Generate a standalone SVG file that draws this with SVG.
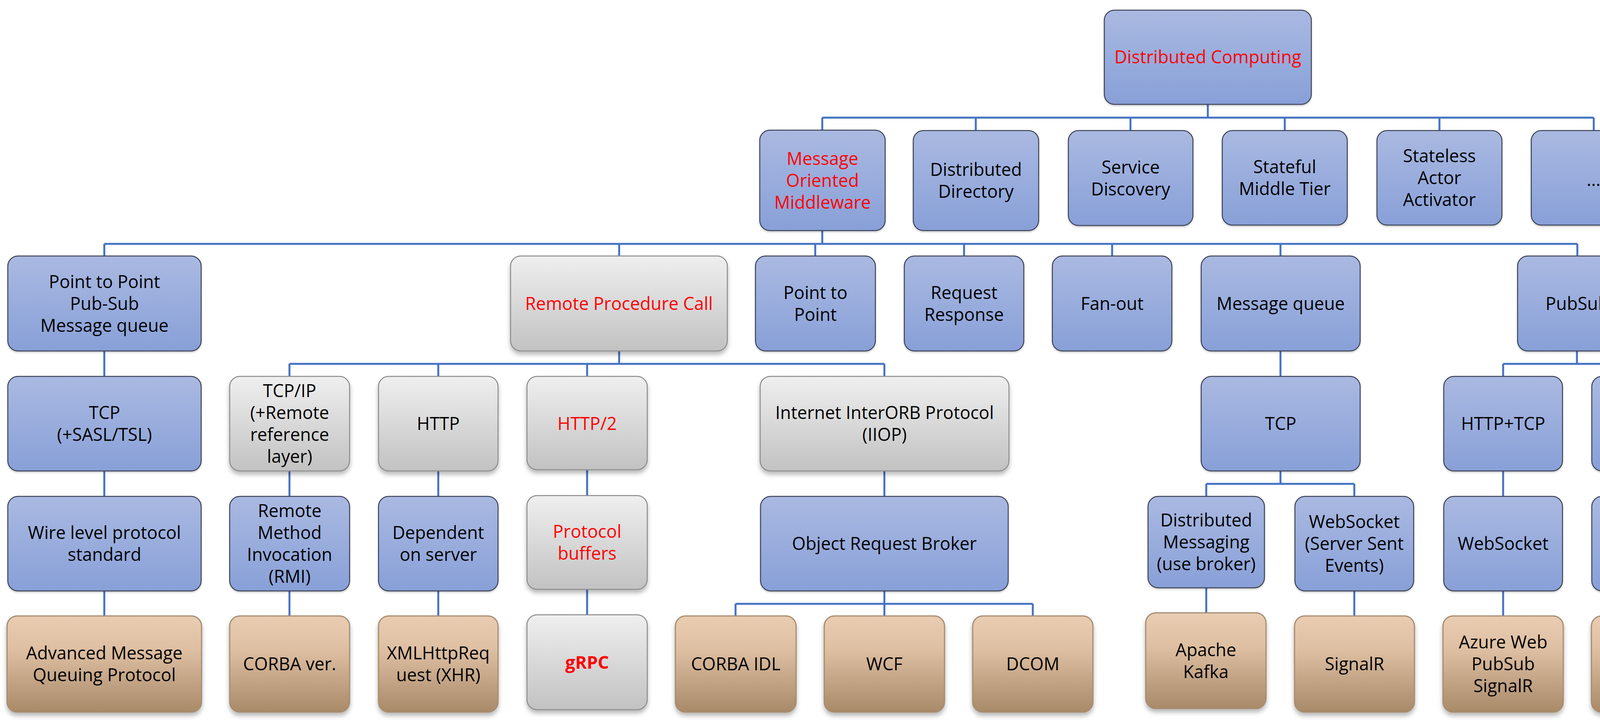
<svg xmlns="http://www.w3.org/2000/svg" width="4400" height="1855" viewBox="0 0 4400 1855">
<defs>
<linearGradient id="gb" x1="0" y1="0" x2="0" y2="1"><stop offset="0" stop-color="#AAB9E1"/><stop offset="1" stop-color="#88A0D8"/></linearGradient>
<linearGradient id="gg" x1="0" y1="0" x2="0" y2="1"><stop offset="0" stop-color="#EFEFEF"/><stop offset="1" stop-color="#C2C2C2"/></linearGradient>
<linearGradient id="gr" x1="0" y1="0" x2="0" y2="1"><stop offset="0" stop-color="#E9CDB2"/><stop offset="0.35" stop-color="#DEBFA2"/><stop offset="1" stop-color="#A88A69"/></linearGradient>
<filter id="sh" x="-10%" y="-10%" width="120%" height="130%"><feDropShadow dx="0" dy="8" stdDeviation="6" flood-color="#000" flood-opacity="0.28"/></filter>
<filter id="shb" x="-10%" y="-10%" width="120%" height="130%"><feDropShadow dx="0" dy="3" stdDeviation="2" flood-color="#000" flood-opacity="0.2"/></filter>
<style>
.blue{fill:url(#gb);stroke:#3C4356;stroke-width:2.5;filter:url(#shb)}
.gray{fill:url(#gg);stroke:#8A8A8A;stroke-width:2.5;filter:url(#sh)}
.brown{fill:url(#gr);stroke:#A68C70;stroke-width:3;filter:url(#sh)}
text{font-family:"Open Sans","Noto Sans","Liberation Sans",sans-serif;font-size:45px;text-anchor:middle;fill:#000}
.red{fill:#FF0000}
.bold{font-weight:bold}
.c{fill:none;stroke:#4472C4;stroke-width:5}
</style>
</defs>
<g id="connectors" class="c">
<path class="c" d="M3092 267V301M2105 301H4080M2105 301V334M2498 301V334M2894 301V334M3289 301V334M3685 301V334M4080 301V334"/>
<path class="c" d="M2105 590V624M267 624H4038M267 624V655M1585 624V655M2087 624V655M2468 624V655M2847 624V655M3278 624V655M4038 624V655"/>
<path class="c" d="M267 898V963M267 1205V1270M267 1512V1576"/>
<path class="c" d="M1585 898V931M741 931H2264M741 931V963M1122 931V963M1503 931V963M2264 931V963"/>
<path class="c" d="M741 1205V1270M741 1512V1576M1122 1205V1270M1122 1512V1576M1503 1202V1268M1503 1508V1573"/>
<path class="c" d="M2264 1205V1270M2264 1512V1545M1883 1545H2644M1883 1545V1576M2264 1545V1576M2644 1545V1576"/>
<path class="c" d="M3278 898V963M3278 1205V1238M3088 1238H3467M3088 1238V1270M3467 1238V1270M3088 1504V1568M3467 1512V1576"/>
<path class="c" d="M4037 898V931M3848 931H4227M3848 931V963M4227 931V963M3848 1205V1270M3848 1512V1576M4227 1205V1270M4227 1512V1576"/>
</g>
<g id="n-dc"><rect class="blue" x="2827" y="26" width="530" height="241" rx="26"/><text class="red" x="3092" y="162">Distributed Computing</text></g>
<g id="n-mom"><rect class="blue" x="1945" y="333" width="321" height="257" rx="26"/><text class="red" x="2105.5" y="421.5">Message</text><text class="red" x="2105.5" y="477.5">Oriented</text><text class="red" x="2105.5" y="533.5">Middleware</text></g>
<g id="n-dd"><rect class="blue" x="2338" y="334" width="321" height="256" rx="26"/><text x="2498.5" y="450">Distributed</text><text x="2498.5" y="506">Directory</text></g>
<g id="n-sd"><rect class="blue" x="2735" y="334" width="319" height="243" rx="26"/><text x="2894.5" y="443.5">Service</text><text x="2894.5" y="499.5">Discovery</text></g>
<g id="n-smt"><rect class="blue" x="3129" y="334" width="320" height="242" rx="26"/><text x="3289" y="443">Stateful</text><text x="3289" y="499">Middle Tier</text></g>
<g id="n-saa"><rect class="blue" x="3525" y="334" width="320" height="242" rx="26"/><text x="3685" y="415">Stateless</text><text x="3685" y="471">Actor</text><text x="3685" y="527">Activator</text></g>
<g id="n-more"><rect class="blue" x="3920" y="334" width="319" height="242" rx="26"/><text x="4079.5" y="476">...</text></g>
<g id="n-ppm"><rect class="blue" x="20" y="655" width="495" height="243" rx="26"/><text x="267.5" y="736.5">Point to Point</text><text x="267.5" y="792.5">Pub-Sub</text><text x="267.5" y="848.5">Message queue</text></g>
<g id="n-rpc"><rect class="gray" x="1307" y="655" width="555" height="243" rx="26"/><text class="red" x="1584.5" y="792.5">Remote Procedure Call</text></g>
<g id="n-p2p"><rect class="blue" x="1934" y="655" width="307" height="243" rx="26"/><text x="2087.5" y="764.5">Point to</text><text x="2087.5" y="820.5">Point</text></g>
<g id="n-rr"><rect class="blue" x="2315" y="655" width="306" height="243" rx="26"/><text x="2468" y="764.5">Request</text><text x="2468" y="820.5">Response</text></g>
<g id="n-fan"><rect class="blue" x="2694" y="655" width="306" height="243" rx="26"/><text x="2847" y="792.5">Fan-out</text></g>
<g id="n-mq"><rect class="blue" x="3075" y="655" width="407" height="243" rx="26"/><text x="3278.5" y="792.5">Message queue</text></g>
<g id="n-pubsub"><rect class="blue" x="3885" y="655" width="305" height="243" rx="26"/><text x="4037.5" y="792.5">PubSub</text></g>
<g id="n-tcp1"><rect class="blue" x="20" y="963" width="495" height="242" rx="26"/><text x="267.5" y="1072">TCP</text><text x="267.5" y="1128">(+SASL/TSL)</text></g>
<g id="n-tcpip"><rect class="gray" x="588" y="963" width="307" height="242" rx="26"/><text x="741.5" y="1016">TCP/IP</text><text x="741.5" y="1072">(+Remote</text><text x="741.5" y="1128">reference</text><text x="741.5" y="1184">layer)</text></g>
<g id="n-http"><rect class="gray" x="969" y="963" width="306" height="242" rx="26"/><text x="1122" y="1100">HTTP</text></g>
<g id="n-http2"><rect class="gray" x="1349" y="963" width="308" height="239" rx="26"/><text class="red" x="1503" y="1100">HTTP/2</text></g>
<g id="n-iiop"><rect class="gray" x="1946" y="963" width="637" height="242" rx="26"/><text x="2264.5" y="1072">Internet InterORB Protocol</text><text x="2264.5" y="1128">(IIOP)</text></g>
<g id="n-tcp2"><rect class="blue" x="3075" y="963" width="407" height="242" rx="26"/><text x="3278.5" y="1100">TCP</text></g>
<g id="n-httptcp"><rect class="blue" x="3696" y="963" width="304" height="242" rx="26"/><text x="3848" y="1100">HTTP+TCP</text></g>
<g id="n-tcp3"><rect class="blue" x="4075" y="963" width="305" height="242" rx="26"/><text x="4227.5" y="1100">TCP</text></g>
<g id="n-wire"><rect class="blue" x="20" y="1270" width="495" height="242" rx="26"/><text x="267.5" y="1379">Wire level protocol</text><text x="267.5" y="1435">standard</text></g>
<g id="n-rmi"><rect class="blue" x="588" y="1270" width="307" height="242" rx="26"/><text x="741.5" y="1323">Remote</text><text x="741.5" y="1379">Method</text><text x="741.5" y="1435">Invocation</text><text x="741.5" y="1491">(RMI)</text></g>
<g id="n-dep"><rect class="blue" x="969" y="1270" width="306" height="242" rx="26"/><text x="1122" y="1379">Dependent</text><text x="1122" y="1435">on server</text></g>
<g id="n-pb"><rect class="gray" x="1349" y="1268" width="308" height="240" rx="26"/><text class="red" x="1503" y="1376">Protocol</text><text class="red" x="1503" y="1432">buffers</text></g>
<g id="n-orb"><rect class="blue" x="1947" y="1270" width="634" height="242" rx="26"/><text x="2264" y="1407">Object Request Broker</text></g>
<g id="n-dm"><rect class="blue" x="2939" y="1270" width="298" height="234" rx="26"/><text x="3088" y="1347">Distributed</text><text x="3088" y="1403">Messaging</text><text x="3088" y="1459">(use broker)</text></g>
<g id="n-wss"><rect class="blue" x="3315" y="1270" width="304" height="242" rx="26"/><text x="3467" y="1351">WebSocket</text><text x="3467" y="1407">(Server Sent</text><text x="3467" y="1463">Events)</text></g>
<g id="n-ws"><rect class="blue" x="3696" y="1270" width="304" height="242" rx="26"/><text x="3848" y="1407">WebSocket</text></g>
<g id="n-bin"><rect class="blue" x="4075" y="1270" width="305" height="242" rx="26"/><text x="4227.5" y="1351">Binary base</text><text x="4227.5" y="1407">protocol</text><text x="4227.5" y="1463">format</text></g>
<g id="n-amqp"><rect class="brown" x="18" y="1576" width="498" height="246" rx="26"/><text x="267" y="1687">Advanced Message</text><text x="267" y="1743">Queuing Protocol</text></g>
<g id="n-corba"><rect class="brown" x="588" y="1576" width="307" height="246" rx="26"/><text x="741.5" y="1715">CORBA ver.</text></g>
<g id="n-xhr"><rect class="brown" x="969" y="1576" width="306" height="246" rx="26"/><text x="1122" y="1687">XMLHttpReq</text><text x="1122" y="1743">uest (XHR)</text></g>
<g id="n-grpc"><rect class="gray" x="1349" y="1573" width="308" height="243" rx="26"/><text class="red bold" x="1503" y="1710.5">gRPC</text></g>
<g id="n-idl"><rect class="brown" x="1729" y="1576" width="309" height="246" rx="26"/><text x="1883.5" y="1715">CORBA IDL</text></g>
<g id="n-wcf"><rect class="brown" x="2110" y="1576" width="308" height="246" rx="26"/><text x="2264" y="1715">WCF</text></g>
<g id="n-dcom"><rect class="brown" x="2490" y="1576" width="308" height="246" rx="26"/><text x="2644" y="1715">DCOM</text></g>
<g id="n-kafka"><rect class="brown" x="2933" y="1568" width="308" height="245" rx="26"/><text x="3087" y="1678.5">Apache</text><text x="3087" y="1734.5">Kafka</text></g>
<g id="n-signalr"><rect class="brown" x="3314" y="1576" width="307" height="246" rx="26"/><text x="3467.5" y="1715">SignalR</text></g>
<g id="n-azure"><rect class="brown" x="3694" y="1576" width="308" height="246" rx="26"/><text x="3848" y="1659">Azure Web</text><text x="3848" y="1715">PubSub</text><text x="3848" y="1771">SignalR</text></g>
<g id="n-mqtt"><rect class="brown" x="4074" y="1576" width="308" height="246" rx="26"/><text x="4228" y="1715">MQTT</text></g>
</svg>
